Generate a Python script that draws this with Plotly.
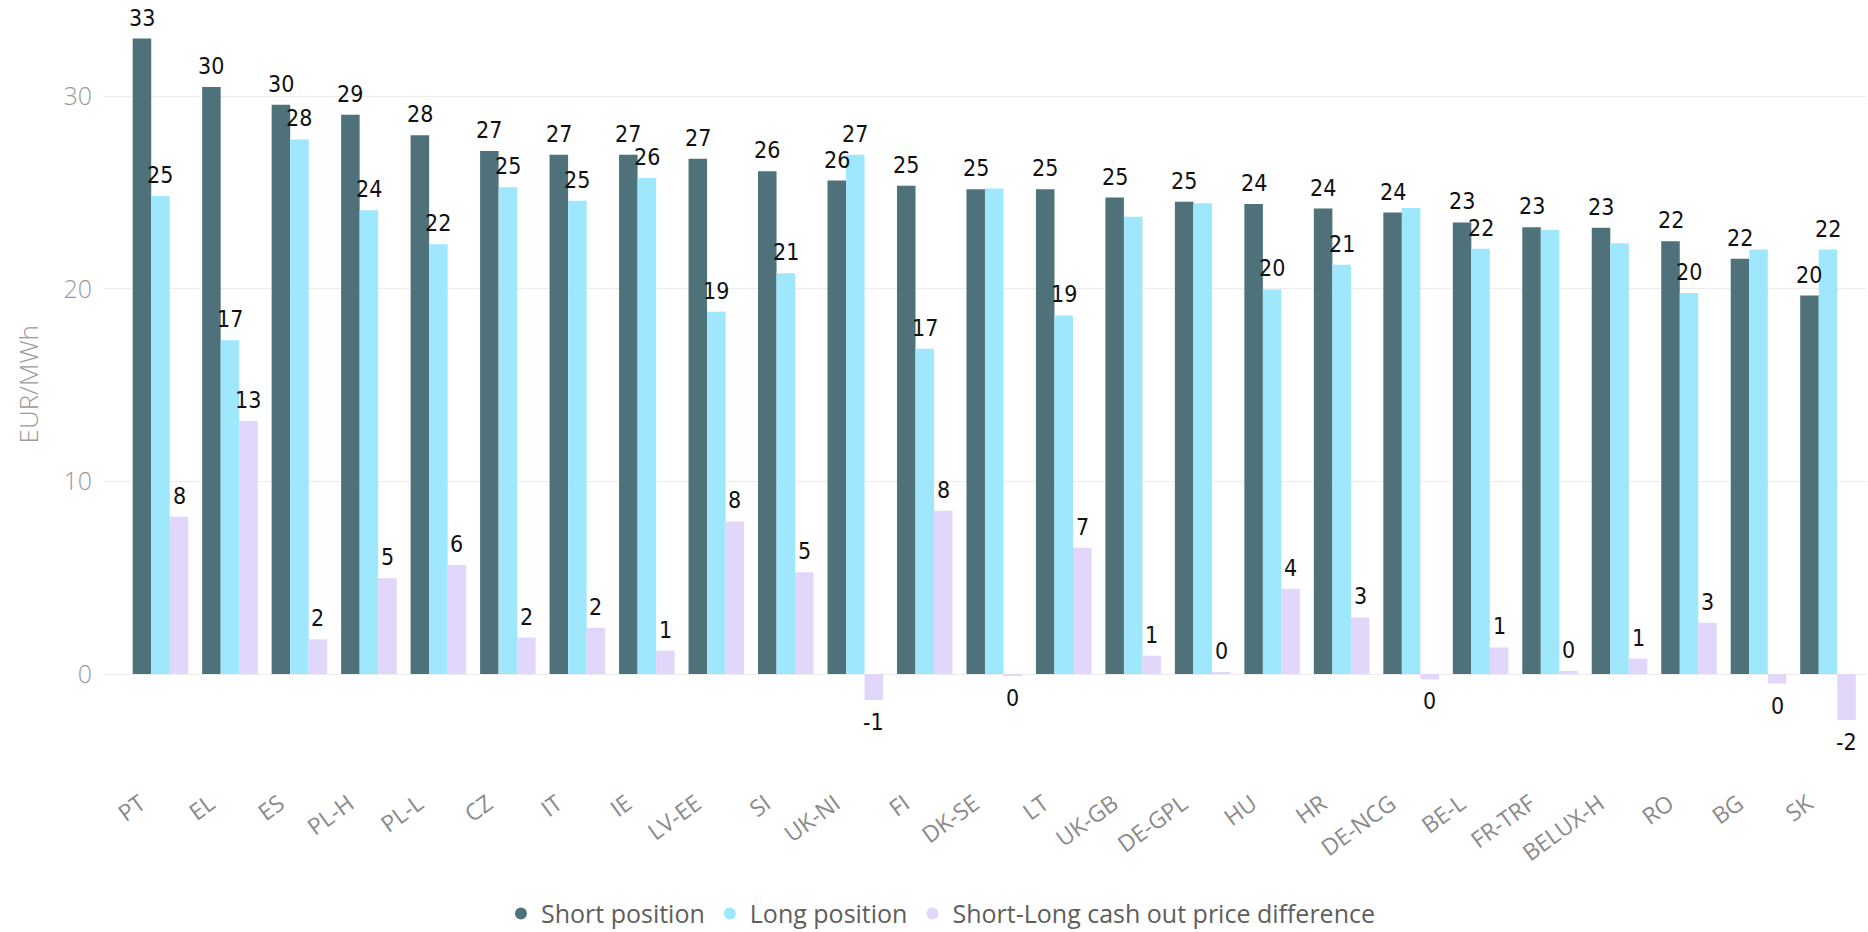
import plotly.graph_objects as go

categories = ["PT", "EL", "ES", "PL-H", "PL-L", "CZ", "IT", "IE", "LV-EE", "SI",
              "UK-NI", "FI", "DK-SE", "LT", "UK-GB", "DE-GPL", "HU", "HR", "DE-NCG",
              "BE-L", "FR-TRF", "BELUX-H", "RO", "BG", "SK"]
short_position = [33.00, 30.48, 29.56, 29.04, 27.97, 27.16, 26.97, 26.97, 26.75, 26.11,
                  25.62, 25.35, 25.17, 25.17, 24.74, 24.52, 24.41, 24.17, 23.96,
                  23.45, 23.20, 23.17, 22.47, 21.56, 19.65]
long_position = [24.82, 17.33, 27.76, 24.08, 22.31, 25.28, 24.58, 25.76, 18.81, 20.81,
                 26.97, 16.89, 25.21, 18.62, 23.75, 24.45, 19.97, 21.25, 24.20,
                 22.08, 23.06, 22.37, 19.78, 22.04, 22.04]
price_difference = [8.16, 13.14, 1.80, 4.97, 5.66, 1.89, 2.40, 1.21, 7.92, 5.28,
                    -1.35, 8.48, -0.10, 6.56, 0.95, 0.09, 4.43, 2.94, -0.28,
                    1.38, 0.16, 0.80, 2.66, -0.50, -2.39]
# categories whose "Long position" data label is hidden (overlapping labels in the original)
long_label_hidden = ["DK-SE", "UK-GB", "DE-GPL", "DE-NCG", "FR-TRF", "BELUX-H", "BG"]
y_tick_values = [0, 10, 20, 30]

series_names = ["Short position", "Long position", "Short-Long cash out price difference"]
colors = ["#4F717A", "#9FE7FC", "#E2D7FB"]

BARGAP = 0.2
label_font = dict(family="Liberation Sans Narrow, DejaVu Sans Condensed, Roboto",
                  size=23, color="#111111")

fig = go.Figure()
all_values = [short_position, long_position, price_difference]
hidden_by_series = [[], long_label_hidden, []]
for name, vals, col in zip(series_names, all_values, colors):
    fig.add_trace(go.Bar(
        x=categories, y=vals, name=name, marker=dict(color=col, line=dict(width=0)),
        showlegend=False, hoverinfo="x+y+name",
    ))
# legend entries with round markers
for name, col in zip(series_names, colors):
    fig.add_trace(go.Scatter(
        x=[None], y=[None], mode="markers", name=name,
        marker=dict(symbol="circle", size=15, color=col), showlegend=True,
    ))

# data labels (outside end of each bar), placed on the axis scales
n_series = len(all_values)
bar_w = (1 - BARGAP) / n_series
annotations = []
for j, (vals, hidden) in enumerate(zip(all_values, hidden_by_series)):
    for i, (cat, v) in enumerate(zip(categories, vals)):
        if cat in hidden:
            continue
        pos = v >= 0
        annotations.append(dict(
            x=i + (j - (n_series - 1) / 2) * bar_w, y=v, xref="x", yref="y",
            text=str(int(round(v)) + 0), showarrow=False, font=label_font,
            xanchor="center", yanchor="bottom" if pos else "top",
            yshift=6 if pos else -7,
        ))
annotations.append(dict(
    text="EUR/MWh", textangle=-90, xref="paper", yref="paper",
    x=-0.0426, xanchor="center", y=0.487, yanchor="middle",
    showarrow=False, font=dict(family="Open Sans", size=26, color="#9a9a9a", weight=300),
))

fig.update_layout(
    width=1868, height=932,
    margin=dict(l=104, r=2, t=10, b=192, autoexpand=False),
    paper_bgcolor="white", plot_bgcolor="white",
    barmode="group", bargap=BARGAP, bargroupgap=0,
    xaxis=dict(
        type="category", range=[-0.813, 24.547], showgrid=False, zeroline=False,
        showline=False, ticks="", tickangle=-36, automargin=False,
        ticklabelstandoff=45, ticklabelshift=-20,
        tickfont=dict(family="Open Sans", size=23, color="#8a8a8a"),
    ),
    yaxis=dict(
        range=[-3.427, 34.48], tickvals=y_tick_values, showgrid=True,
        gridcolor="#ececec", gridwidth=1, zeroline=True, zerolinecolor="#ececec",
        zerolinewidth=1, showline=False, ticks="", ticklen=0, automargin=False,
        ticklabelstandoff=11,
        tickfont=dict(family="Open Sans", size=25, color="#9a9a9a", weight=300),
    ),
    legend=dict(
        orientation="h", x=0.475, xanchor="center", y=-0.238, yanchor="middle",
        font=dict(family="Open Sans", size=25, color="#605E5C"),
        itemsizing="constant", tracegroupgap=0, itemwidth=30,
    ),
    annotations=annotations,
)

fig.write_html("out.html", config={"displayModeBar": False},
               post_script="document.body.style.margin='0';")
